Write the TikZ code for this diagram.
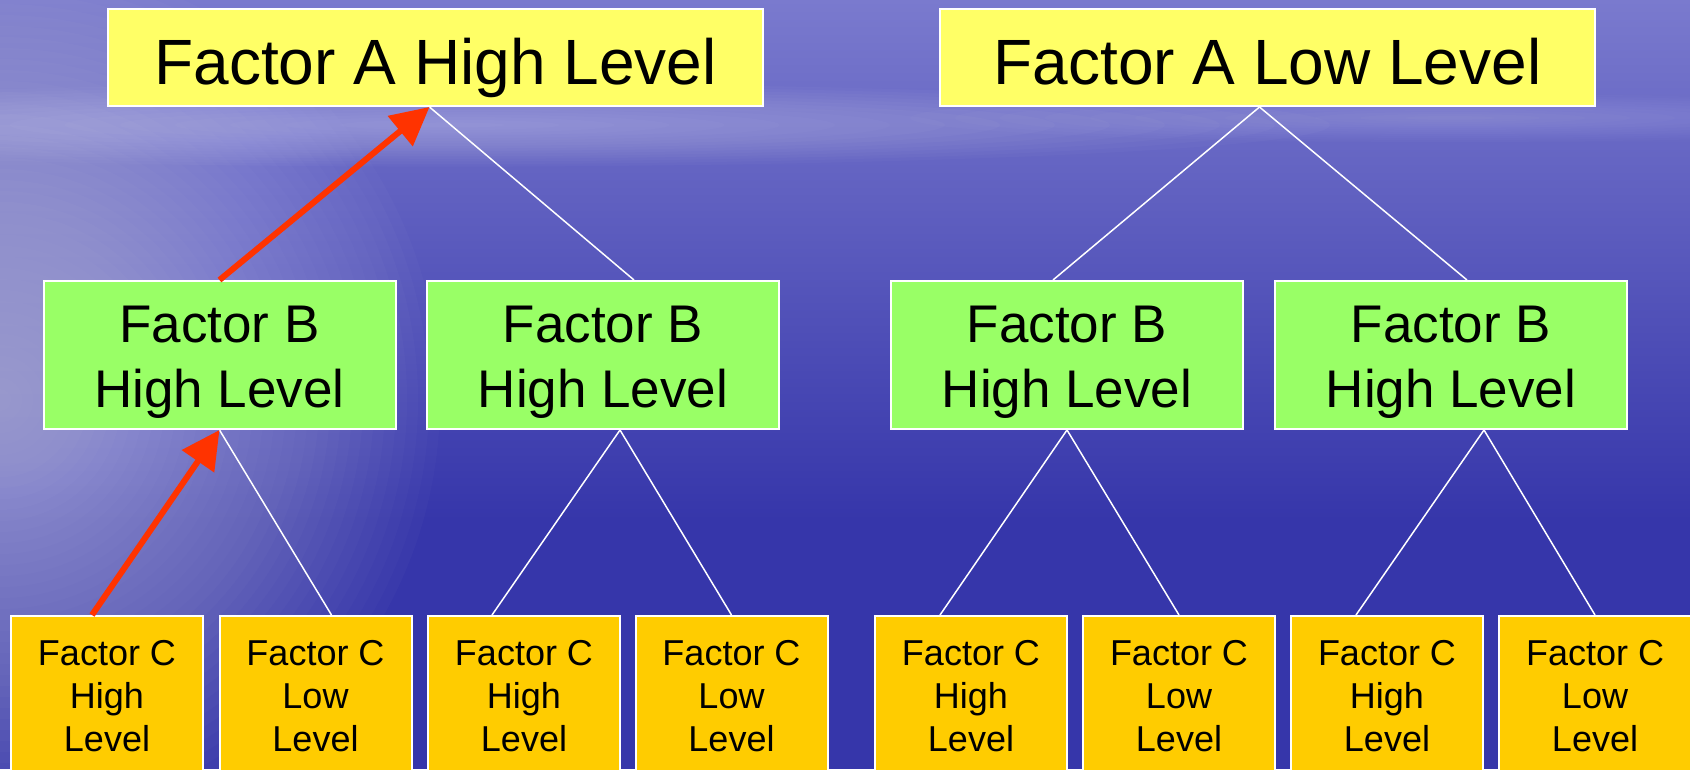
\documentclass[tikz,border=0pt]{standalone}
\usepackage{fontspec}
\setmainfont{Liberation Sans}
\usetikzlibrary{arrows.meta}

\definecolor{bgDeep}{RGB}{54,54,170}
\definecolor{bgSky}{RGB}{122,122,206}
\definecolor{bgGlow}{RGB}{226,226,246}
\definecolor{yellowA}{RGB}{255,255,102}
\definecolor{greenB}{RGB}{153,255,102}
\definecolor{orangeC}{RGB}{255,204,0}
\definecolor{redPick}{RGB}{255,51,0}

\begin{document}
\begin{tikzpicture}[x=1pt, y=-1pt,
    boxA/.style={draw=white, line width=2pt, fill=yellowA, minimum width=655pt, minimum height=97pt, inner sep=0pt, text height=60pt, text depth=7pt, font=\fontsize{64}{70}\selectfont},
    boxB/.style={draw=white, line width=2pt, fill=greenB, minimum width=352pt, minimum height=148pt, inner sep=0pt, align=center, text height=104pt, text depth=0pt, font=\fontsize{53}{65}\selectfont},
    boxC/.style={draw=white, line width=2pt, fill=orangeC, minimum width=192pt, minimum height=160pt, inner sep=0pt, align=center, font=\fontsize{36}{43}\selectfont},
    branch/.style={draw=white, line width=1.5pt},
    pick/.style={draw=redPick, line width=6pt, -{Triangle[length=38pt, width=38pt]}}]
    \clip (0,0) rectangle (1690,769);

    % --- Achtergrond ---
    \fill[bgDeep] (0,0) rectangle (1690,769);
    \shade[top color=bgSky, bottom color=bgDeep] (0,0) rectangle (1690,520);
    \foreach \r in {1,...,40} {
        \fill[bgGlow, opacity=0.022] (0,400) ellipse [x radius=11*\r, y radius=11*\r];
    }
    \foreach \r in {1,...,16} {
        \fill[white, opacity=0.025] (450,125) ellipse [x radius=55*\r, y radius=2.6*\r];
    }
    \foreach \r in {1,...,12} {
        \fill[white, opacity=0.02] (1450,118) ellipse [x radius=45*\r, y radius=2*\r];
    }

    % --- Factor A ---
    \node[boxA] (aHigh) at (435.5,57.5) {Factor A High Level};
    \node[boxA] (aLow) at (1267.5,57.5) {Factor A Low Level};

    % --- Factor B ---
    \foreach \i/\x in {1/219.5, 2/603, 3/1067, 4/1451} {
        \node[boxB] (b\i) at (\x,355) {Factor B\\High Level};
    }

    % --- Factor C ---
    \foreach \i/\x/\lvl in {1/107/High, 2/315.5/Low, 3/524/High, 4/731.5/Low,
                            5/971/High, 6/1179/Low, 7/1387/High, 8/1595/Low} {
        \node[boxC] (c\i) at (\x,696) {Factor C\\\lvl\\Level};
    }

    % Takken (wit)
    \draw[branch] ([xshift=-6pt]aHigh.south) -- ([xshift=31pt]b2.north);
    \draw[branch] ([xshift=-8pt]aLow.south) -- ([xshift=-14pt]b3.north);
    \draw[branch] ([xshift=-8pt]aLow.south) -- ([xshift=16pt]b4.north);
    \foreach \p/\ps/\c/\cs in {b1/0/c2/16, b2/17/c3/-32, b2/17/c4/0,
                               b3/0/c5/-31, b3/0/c6/0, b4/33/c7/-31, b4/33/c8/0} {
        \draw[branch] ([xshift=\ps pt]\p.south) -- ([xshift=\cs pt]\c.north);
    }

    % Gekozen pad (rood)
    \draw[pick] (b1.north) -- ([xshift=-6pt]aHigh.south);
    \draw[pick] ([xshift=-15pt]c1.north) -- (b1.south);
\end{tikzpicture}
\end{document}
